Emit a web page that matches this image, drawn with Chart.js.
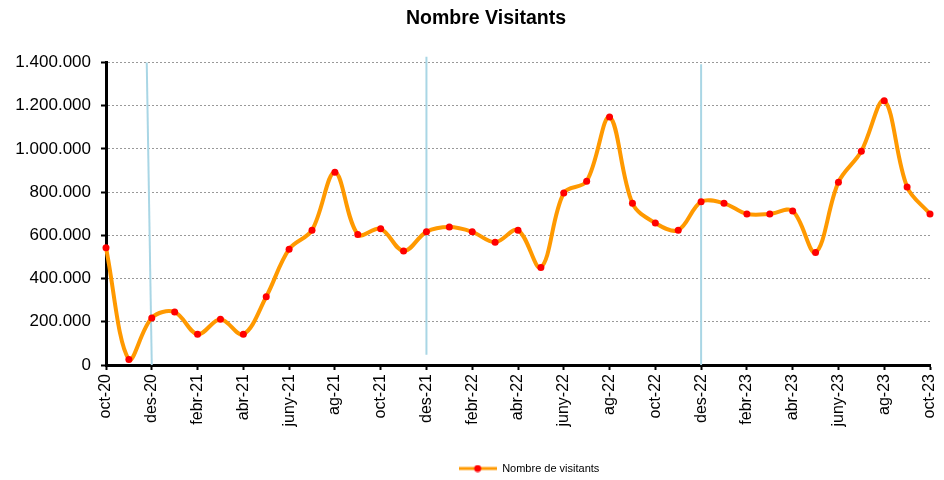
<!DOCTYPE html>
<html>
<head>
<meta charset="utf-8">
<script src="https://cdn.jsdelivr.net/npm/chart.js@4/dist/chart.umd.min.js"></script>
<style>
  body { margin: 0; background: #fff; }
  #wrap { width: 944px; height: 480px; position: relative; }
</style>
</head>
<body>
<div id="wrap"><canvas id="myChart"></canvas></div>
<script>
const mesos = [
    'oct-20', 'nov-20', 'des-20', 'gen-21', 'febr-21', 'març-21', 'abr-21', 'maig-21', 'juny-21', 'jul-21', 'ag-21', 'set-21',
    'oct-21', 'nov-21', 'des-21', 'gen-22', 'febr-22', 'març-22', 'abr-22', 'maig-22', 'juny-22', 'jul-22', 'ag-22', 'set-22',
    'oct-22', 'nov-22', 'des-22', 'gen-23', 'febr-23', 'març-23', 'abr-23', 'maig-23', 'juny-23', 'jul-23', 'ag-23', 'set-23',
    'oct-23'
]
const visitants = [
    542000, 25000, 218000, 245000, 142000, 212000, 142000, 316000, 536000, 624000, 892000, 604000,
    630000, 527000, 616000, 638000, 616000, 568000, 624000, 451000, 796000, 850000, 1147000, 748000,
    657000, 624000, 755000, 748000, 699000, 699000, 713000, 521000, 846000, 989000, 1223000, 824000,
    699000
]
// light blue separators at each december (index on the month axis, values on y)
const separadors = [
    {from: 1.78, to: 2, top: 1400000, bottom: 0},
    {from: 14, to: 14, top: 1426000, bottom: 48000},
    {from: 26, to: 26, top: 1392000, bottom: 0}
]

function fmt(v) {
    return String(v).replace(/\B(?=(\d{3})+(?!\d))/g, '.')
}

// little legend icon: orange line with red dot
function legendIcon() {
    const c = document.createElement('canvas')
    c.width = 38
    c.height = 8
    const g = c.getContext('2d')
    g.strokeStyle = '#FF9900'
    g.lineWidth = 3
    g.beginPath()
    g.moveTo(0, 4)
    g.lineTo(38, 4)
    g.stroke()
    g.fillStyle = '#FF0000'
    g.beginPath()
    g.arc(19, 4, 3.5, 0, Math.PI * 2)
    g.fill()
    return c
}

const separadorsPlugin = {
    id: 'separadors',
    beforeDatasetsDraw(chart) {
        const {ctx, scales: {x, y}} = chart
        ctx.save()
        ctx.strokeStyle = '#A9D6E5'
        ctx.lineWidth = 2
        separadors.forEach(s => {
            ctx.beginPath()
            ctx.moveTo(x.getPixelForValue(s.from), y.getPixelForValue(s.top))
            ctx.lineTo(x.getPixelForValue(s.to), y.getPixelForValue(s.bottom))
            ctx.stroke()
        })
        ctx.restore()
    }
}

// the original has title and legend a bit right of the canvas centre
const shiftBlocks = {
    id: 'shiftBlocks',
    afterLayout(chart) {
        const lg = chart.legend
        lg.left += 64
        lg.right += 64
        lg.top += 4
        lg.bottom += 4
        const tb = chart.titleBlock
        tb.left += 21
        tb.right += 21
    }
}

Chart.defaults.font.family = "'Liberation Sans', Arial, sans-serif"
Chart.defaults.color = '#000'

const ctx = document.getElementById('myChart').getContext('2d')
const myChart = new Chart(ctx, {
    type: 'line',
    data: {
        labels: mesos,
        datasets: [{
            label: 'Nombre de visitants',
            data: visitants,
            borderColor: '#FF9900',
            backgroundColor: '#FF9900',
            borderWidth: 4,
            tension: 0.35,
            pointRadius: 3.5,
            pointBorderWidth: 0,
            pointBackgroundColor: '#FF0000',
            pointStyle: 'circle'
        }]
    },
    options: {
        responsive: true,
        maintainAspectRatio: false,
        animation: false,
        layout: {
            padding: {left: 0, right: 14, top: 0, bottom: 0}
        },
        plugins: {
            title: {
                display: true,
                text: 'Nombre Visitants',
                font: {size: 19.5, weight: 'bold'},
                padding: {top: 7, bottom: 32}
            },
            legend: {
                position: 'bottom',
                labels: {
                    usePointStyle: true,
                    pointStyleWidth: 38,
                    padding: 10,
                    font: {size: 11},
                    generateLabels: (chart) => [{
                        text: 'Nombre de visitants',
                        pointStyle: legendIcon(),
                        fillStyle: '#FF9900',
                        strokeStyle: '#FF9900',
                        lineWidth: 0,
                        datasetIndex: 0
                    }]
                }
            },
            tooltip: {enabled: false}
        },
        scales: {
            x: {
                offset: false,
                grid: {
                    drawOnChartArea: false,
                    tickLength: 5,
                    tickWidth: 2,
                    tickColor: (c) => c.index % 2 === 0 ? '#000' : 'rgba(0,0,0,0)'
                },
                border: {color: '#000', width: 3},
                ticks: {
                    autoSkip: false,
                    minRotation: 90,
                    maxRotation: 90,
                    padding: 4,
                    font: {size: 16},
                    callback: function(val, index) {
                        return index % 2 === 0 ? this.getLabelForValue(val) : ''
                    }
                },
                afterFit: (scale) => {
                    scale.height = 84
                    scale.paddingRight = 0
                }
            },
            y: {
                min: 0,
                max: 1400000,
                grid: {
                    color: '#999',
                    lineWidth: 1,
                    tickLength: 5,
                    tickWidth: 2,
                    tickColor: '#000',
                    tickBorderDash: []
                },
                border: {color: '#000', width: 3, dash: [2, 2]},
                ticks: {
                    stepSize: 200000,
                    padding: 10,
                    font: {size: 17},
                    callback: (v) => fmt(v)
                },
                afterFit: (scale) => { scale.width = 106 }
            }
        }
    },
    plugins: [separadorsPlugin, shiftBlocks]
})
</script>
</body>
</html>
